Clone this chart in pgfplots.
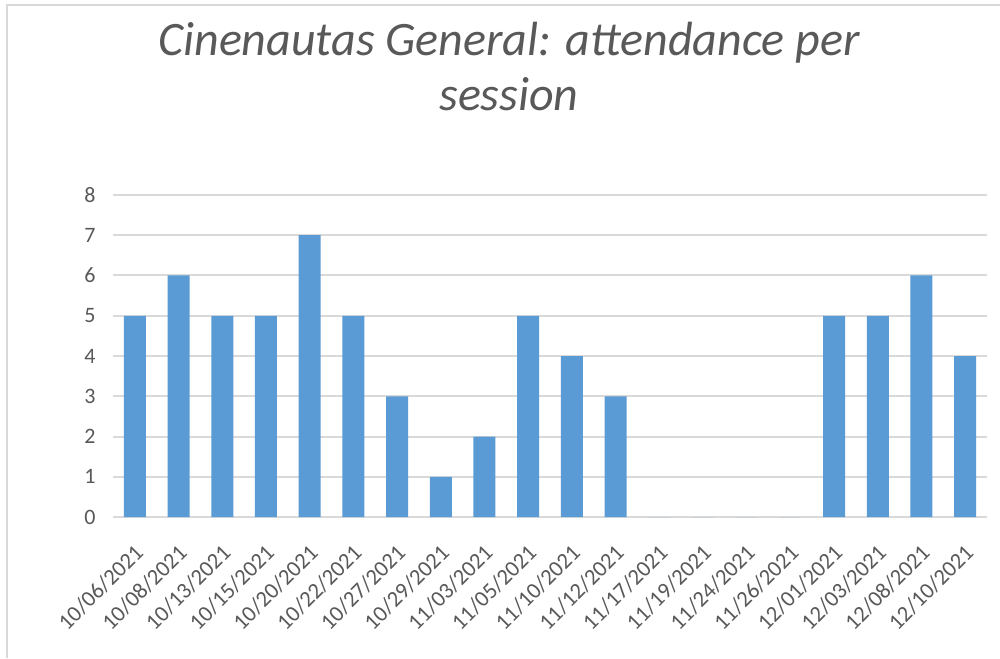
\documentclass[border=0pt]{standalone}
\usepackage{fontspec}
\setmainfont{Carlito}
\usepackage{pgfplots}
\pgfplotsset{compat=1.18}
\definecolor{barblue}{RGB}{91,155,213}
\definecolor{gridgray}{RGB}{217,217,217}
\definecolor{txtgray}{RGB}{89,89,89}

\begin{document}
\begin{tikzpicture}[x=0.5pt,y=0.5pt]
% 1 unit = 1 px of the 1000x658 canvas; origin at the plot area's lower left corner
\fill[white] (-113,-141) rectangle (887,517);
\draw[gridgray, line width=1pt] (-106,-141) -- (-106,512) -- (887,512);

\node[anchor=base, font=\fontsize{24}{28}\selectfont\itshape, text=txtgray]
  at (396,461) {Cinenautas General: attendance per};
\node[anchor=base, font=\fontsize{24}{28}\selectfont\itshape, text=txtgray]
  at (396,406) {session};

\begin{axis}[
    at={(0,0)}, anchor=south west,
    scale only axis,
    width=437pt, height=161pt,
    ybar, bar width=11pt,
    xmin=-0.5, xmax=19.5,
    ymin=0, ymax=8,
    ytick={0,1,...,8},
    xtick={0,1,...,19},
    xticklabels={10/06/2021,10/08/2021,10/13/2021,10/15/2021,10/20/2021,
      10/22/2021,10/27/2021,10/29/2021,11/03/2021,11/05/2021,11/10/2021,
      11/12/2021,11/17/2021,11/19/2021,11/24/2021,11/26/2021,12/01/2021,
      12/03/2021,12/08/2021,12/10/2021},
    axis line style={draw=none},
    major tick length=0pt,
    ymajorgrids,
    grid style={gridgray, line width=1pt},
    /pgf/number format/assume math mode=true,
    yticklabel style={font=\fontsize{11}{13}\selectfont, text=txtgray,
      anchor=east, inner sep=0pt, xshift=-8.5pt},
    % shifts act in the rotated frame: they move the label by about (2.3pt, -15.8pt)
    xticklabel style={font=\fontsize{11.3}{13}\selectfont, text=txtgray,
      rotate=45, anchor=east, inner sep=0pt, xshift=-9.5pt, yshift=-12.8pt},
    clip=false,
]
\addplot[fill=barblue, draw=none] coordinates {
  (0,5) (1,6) (2,5) (3,5) (4,7) (5,5) (6,3) (7,1) (8,2) (9,5)
  (10,4) (11,3) (12,0) (13,0) (14,0) (15,0) (16,5) (17,5) (18,6) (19,4)
};
\end{axis}

\pgfresetboundingbox
\path (-113,-141) rectangle (887,517);
\end{tikzpicture}
\end{document}
